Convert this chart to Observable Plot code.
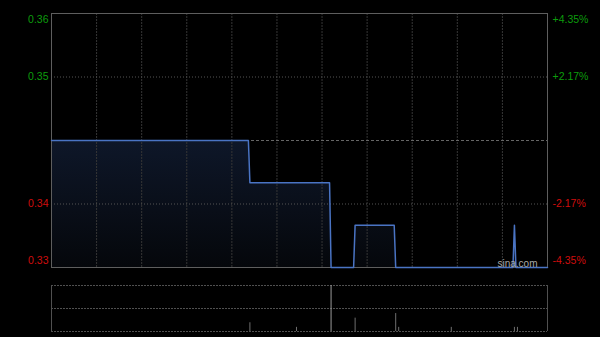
<!DOCTYPE html>
<html>
<head>
<meta charset="utf-8">
<script src="https://cdn.jsdelivr.net/npm/d3@7"></script>
<script src="https://cdn.jsdelivr.net/npm/@observablehq/plot@0.6"></script>
<style>
  html, body { margin: 0; padding: 0; background: #000; }
  svg { display: block; }
</style>
</head>
<body>
<div id="chart"></div>
<script>
// Intraday price (minutes since 9:30, HK session mapped continuously 0..330)
const minutes = [0, 131, 132, 185, 186, 201, 202, 228, 229, 307, 308, 309, 330];
const prices  = [0.345, 0.345, 0.34, 0.34, 0.33, 0.33, 0.335, 0.335, 0.33, 0.33, 0.335, 0.33, 0.33];
const prevClose = 0.345;

// Axis ticks
const leftTickValues = [0.36, 0.3525, 0.3375, 0.33];
const leftTickLabels = ["0.36", "0.35", "0.34", "0.33"];
const rightTickLabels = ["+4.35%", "+2.17%", "-2.17%", "-4.35%"];
const gridMinutes = [30, 60, 90, 120, 150, 180, 210, 240, 270, 300];

// Volume (relative)
const volMinutes = [132, 163, 186, 202, 229, 231, 266, 308, 310];
const volValues  = [19, 9, 100, 29, 39, 9, 9, 9, 9];

const data = minutes.map((m, i) => ({m, p: prices[i]}));
const vol = volMinutes.map((m, i) => ({m, v: volValues[i]}));
const colorOf = i => leftTickValues[i] > prevClose ? "#0c9c0c" : (leftTickValues[i] < prevClose ? "#d00d0d" : "#aaa");

const font = "'Liberation Sans', Arial, sans-serif";
const fs = 10.5;

function labelMarks(sel, dy) {
  return [
    Plot.text(sel, {y: i => leftTickValues[i], text: i => leftTickLabels[i], fill: colorOf,
      frameAnchor: "left", textAnchor: "end", dx: -3, dy, fontSize: fs}),
    Plot.text(sel, {y: i => leftTickValues[i], text: i => rightTickLabels[i], fill: colorOf,
      frameAnchor: "right", textAnchor: "start", dx: 5, dy, fontSize: fs})
  ];
}

const main = Plot.plot({
  width: 600, height: 275,
  marginLeft: 51, marginRight: 53, marginTop: 13, marginBottom: 8,
  style: {background: "#000", fontFamily: font},
  x: {domain: [0, 330], axis: null},
  y: {domain: [0.33, 0.36], axis: null},
  marks: [
    Plot.areaY(data, {x: "m", y1: 0.33, y2: "p", fill: "url(#pg)"}),
    Plot.ruleX(gridMinutes, {stroke: "#363636", strokeDasharray: "2,1"}),
    Plot.ruleY([leftTickValues[1], leftTickValues[2]], {stroke: "#555", strokeDasharray: "1,2"}),
    Plot.ruleY([prevClose], {stroke: "#666", strokeDasharray: "3,2"}),
    Plot.frame({stroke: "#5e5e5e"}),
    Plot.line(data, {x: "m", y: "p", stroke: "#4a74c4", strokeWidth: 1.5}),
    ...labelMarks([0], 6),
    ...labelMarks([1, 2], 0),
    ...labelMarks([3], -7),
    Plot.text(["sina.com"], {frameAnchor: "bottom-right", textAnchor: "end", lineAnchor: "bottom",
      dx: -10, dy: -1, fill: "#a8a8a8", fontSize: 10})
  ]
});

const svgSel = d3.select(main);
const grad = svgSel.insert("defs", ":first-child").append("linearGradient")
  .attr("id", "pg").attr("x1", 0).attr("y1", 0).attr("x2", 0).attr("y2", 1);
grad.append("stop").attr("offset", "0%").attr("stop-color", "#0e1729");
grad.append("stop").attr("offset", "100%").attr("stop-color", "#05070b");

const volume = Plot.plot({
  width: 600, height: 62,
  marginLeft: 51, marginRight: 53, marginTop: 10, marginBottom: 6,
  style: {background: "#000", fontFamily: font},
  x: {domain: [0, 330], axis: null},
  y: {domain: [0, 100], axis: null},
  marks: [
    Plot.ruleY([0, 50, 100], {stroke: "#505050", strokeDasharray: "2,1"}),
    Plot.ruleX([0, 330], {stroke: "#505050"}),
    Plot.ruleX(vol, {x: "m", y1: 0, y2: "v", stroke: d => d.v >= 100 ? "#9a9a9a" : "#6e6e6e"})
  ]
});

const c = document.getElementById("chart");
c.appendChild(main);
c.appendChild(volume);
</script>
</body>
</html>
